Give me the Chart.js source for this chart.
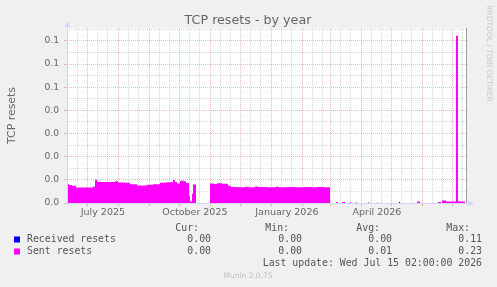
<!DOCTYPE html>
<html>
<head>
<meta charset="utf-8">
<title>TCP resets - by year</title>
<script src="https://cdn.jsdelivr.net/npm/chart.js@4.4.1/dist/chart.umd.min.js"></script>
<style>
  html, body { margin: 0; padding: 0; background: #f0f0f0; }
  canvas { display: block; }
</style>
</head>
<body>
<canvas id="grafico" width="497" height="287"></canvas>
<script>
// Eje X en días desde el inicio del gráfico (10 jun 2025 02:00), 400 días en total
const sentDays = [0, 2, 5, 9, 26, 28, 30, 33, 48, 51, 58, 63, 70, 80, 86, 93, 99, 106, 108, 110,
  113, 117, 119, 122, 123, 125, 126, 129, 130, 143, 147, 150, 155, 161, 164, 170, 178, 182, 188,
  191, 200, 209, 212, 220, 228, 238, 245, 250, 256, 263, 269, 271, 275, 278, 283, 284, 289, 290,
  301, 302, 310, 311, 350, 353, 371, 374, 375, 379, 389, 391, 393, 398, 400];
const sentValues = [0.0082, 0.0078, 0.0074, 0.0067, 0.0071, 0.0100, 0.0092, 0.0091, 0.0094, 0.0089,
  0.0087, 0.0081, 0.0076, 0.0079, 0.0081, 0.0088, 0.0090, 0.0099, 0.0091, 0.0084,
  0.0096, 0.0094, 0.0086, 0.0030, 0.0006, 0.0040, 0.0080, 0.0080, null, 0.0084, 0.0082, 0.0085,
  0.0083, 0.0075, 0.0069, 0.0068, 0.0070, 0.0068, 0.0071,
  0.0069, 0.0068, 0.0070, 0.0068, 0.0069, 0.0068, 0.0069, 0.0068, 0.0069, 0.0068, 0, 0.0004, 0,
  0.0004, 0, 0.0003, 0, 0.0003, 0,
  0.0003, 0, 0.0002, 0, 0.0007, 0, 0.0004, 0, 0.0011, 0.0006, 0.0722, 0.0008, 0.0006, 0, 0];
const receivedDays = [0, 332, 333, 400];
const receivedValues = [0, 0.0004, 0, 0];

const yTicks = [0, 0.005, 0.01, 0.015, 0.02, 0.025, 0.03, 0.035, 0.04, 0.045, 0.05, 0.055,
  0.06, 0.065, 0.07, 0.075];
const monthStartDays = [20.9, 51.9, 82.9, 112.9, 143.9, 173.9, 204.9, 235.9, 263.9, 294.9,
  324.9, 355.9, 385.9];
const minorGridDays = [10.9, 30.9, 40.9, 61.9, 71.9, 92.9, 102.9, 122.9, 132.9, 153.9, 163.9,
  183.9, 193.9, 214.9, 224.9, 245.9, 255.9, 273.9, 283.9, 304.9, 314.9, 334.9, 344.9, 365.9,
  375.9, 395.9];
const monthLabelDays = [35.9, 127.9, 219.9, 309.9];
const monthLabels = ["July 2025", "October 2025", "January 2026", "April 2026"];

const legendNames = ["Received resets", "Sent resets"];
const legendColors = ["#0000ff", "#ff00ff"];
const curValues = ["0.00", "0.00"];
const minValues = ["0.00", "0.00"];
const avgValues = ["0.00", "0.01"];
const maxValues = ["0.11", "0.23"];

const MAJOR = "rgba(225, 70, 70, 0.38)";
const MINOR = "rgba(150, 150, 150, 0.38)";
const FONT_COLOR = "#666666";
const LEGEND_COLOR = "#555555";
const AXIS_COLOR = "#cfd6f8";

const toPoints = (days, values) => days.map((d, i) => ({ x: d, y: values[i] }));
const isMajor = v => monthStartDays.includes(v);

// Fondo gris y área del gráfico en blanco
const fondo = {
  id: "fondo",
  beforeDraw(chart) {
    const { ctx, chartArea: a } = chart;
    ctx.save();
    ctx.fillStyle = "#f0f0f0";
    ctx.fillRect(0, 0, chart.width, chart.height);
    ctx.fillStyle = "#ffffff";
    ctx.fillRect(a.left, a.top, a.right - a.left, a.bottom - a.top);
    ctx.restore();
  }
};

// Ejes con flechas, título, marca de agua y leyenda estilo munin
const adornos = {
  id: "adornos",
  afterDraw(chart) {
    const { ctx, chartArea: a } = chart;
    ctx.save();

    // borde derecho
    ctx.strokeStyle = "#a0a0a0";
    ctx.lineWidth = 1;
    ctx.beginPath();
    ctx.moveTo(a.right - 0.5, a.top);
    ctx.lineTo(a.right - 0.5, a.bottom);
    ctx.stroke();

    // ejes
    ctx.strokeStyle = AXIS_COLOR;
    ctx.fillStyle = AXIS_COLOR;
    ctx.beginPath();
    ctx.moveTo(a.left + 0.5, a.bottom + 2);
    ctx.lineTo(a.left + 0.5, a.top - 2);
    ctx.moveTo(a.left - 2, a.bottom + 0.5);
    ctx.lineTo(a.right + 2, a.bottom + 0.5);
    ctx.stroke();
    ctx.beginPath();
    ctx.moveTo(a.left + 0.5, a.top - 7);
    ctx.lineTo(a.left - 2.5, a.top - 1);
    ctx.lineTo(a.left + 3.5, a.top - 1);
    ctx.fill();
    ctx.beginPath();
    ctx.moveTo(a.right + 7, a.bottom + 0.5);
    ctx.lineTo(a.right + 1, a.bottom - 2.5);
    ctx.lineTo(a.right + 1, a.bottom + 3.5);
    ctx.fill();

    // título
    ctx.fillStyle = FONT_COLOR;
    ctx.font = "12.7px 'DejaVu Sans'";
    ctx.textAlign = "center";
    ctx.textBaseline = "alphabetic";
    ctx.fillText("TCP resets - by year", 248, 24);

    // título eje Y
    ctx.save();
    ctx.translate(12, (a.top + a.bottom) / 2);
    ctx.rotate(-Math.PI / 2);
    ctx.font = "10.9px 'DejaVu Sans'";
    ctx.textBaseline = "middle";
    ctx.fillText("TCP resets", 0, 0);
    ctx.restore();

    // marca de agua
    ctx.save();
    ctx.translate(488.5, 53.5);
    ctx.rotate(Math.PI / 2);
    ctx.fillStyle = "#c8c8c8";
    ctx.font = "7.5px 'DejaVu Sans'";
    ctx.textBaseline = "middle";
    ctx.fillText("RRDTOOL / TOBI OETIKER", 0, 0);
    ctx.restore();

    // leyenda
    ctx.font = "9.85px 'DejaVu Sans Mono'";
    ctx.textBaseline = "middle";
    ctx.textAlign = "right";
    ctx.fillStyle = LEGEND_COLOR;
    const headX = [199, 289, 380, 470];
    const valX = [211, 302, 392, 482];
    ["Cur:", "Min:", "Avg:", "Max:"].forEach((h, i) => ctx.fillText(h, headX[i], 228));
    legendNames.forEach((name, i) => {
      const y = 239.5 + i * 12;
      ctx.fillStyle = legendColors[i];
      ctx.fillRect(14, y - 3, 6, 6);
      ctx.fillStyle = LEGEND_COLOR;
      ctx.textAlign = "left";
      ctx.fillText(name, 27, y);
      ctx.textAlign = "right";
      [curValues[i], minValues[i], avgValues[i], maxValues[i]].forEach((v, j) => ctx.fillText(v, valX[j], y));
    });
    ctx.fillText("Last update: Wed Jul 15 02:00:00 2026", 482, 263);

    ctx.fillStyle = "#c0c0c0";
    ctx.font = "7.5px 'DejaVu Sans'";
    ctx.textAlign = "center";
    ctx.fillText("Munin 2.0.75", 248, 276);
    ctx.restore();
  }
};

const ctx = document.getElementById("grafico").getContext("2d");
new Chart(ctx, {
  type: "line",
  data: {
    datasets: [
      {
        label: "Sent resets",
        data: toPoints(sentDays, sentValues),
        backgroundColor: "#ff00ff",
        borderColor: "#ff00ff",
        borderWidth: 0,
        pointRadius: 0,
        stepped: true,
        fill: "origin",
        spanGaps: false
      },
      {
        label: "Received resets",
        data: toPoints(receivedDays, receivedValues),
        backgroundColor: "#0000ff",
        borderColor: "#0000ff",
        borderWidth: 0,
        pointRadius: 0,
        stepped: true,
        fill: "origin"
      }
    ]
  },
  options: {
    responsive: false,
    animation: false,
    layout: { padding: { left: 0, right: 30, top: 28, bottom: 0 } },
    plugins: {
      legend: { display: false },
      tooltip: { enabled: false },
      title: { display: false }
    },
    scales: {
      x: {
        type: "linear",
        position: "bottom",
        min: 0,
        max: 400,
        weight: 0,
        afterBuildTicks: s => { s.ticks = monthStartDays.concat(minorGridDays).map(v => ({ value: v })); },
        afterFit: s => { s.height = 0; },
        ticks: { display: false, autoSkip: false },
        grid: {
          color: c => isMajor(c.tick.value) ? MAJOR : MINOR,
          tickColor: c => isMajor(c.tick.value) ? MAJOR : "rgba(0,0,0,0)",
          tickLength: 3,
          lineWidth: 1
        },
        border: { display: false, dash: [1, 1] }
      },
      xl: {
        type: "linear",
        position: "bottom",
        min: 0,
        max: 400,
        weight: 1,
        afterBuildTicks: s => { s.ticks = monthLabelDays.map(v => ({ value: v })); },
        afterFit: s => { s.height = 84; },
        ticks: {
          autoSkip: false,
          maxRotation: 0,
          padding: 4,
          color: FONT_COLOR,
          font: { family: "DejaVu Sans", size: 9.5 },
          callback: (v, i) => monthLabels[i]
        },
        grid: { display: false, drawTicks: false },
        border: { display: false }
      },
      y: {
        type: "linear",
        min: 0,
        max: 0.0756,
        afterBuildTicks: s => { s.ticks = yTicks.map(v => ({ value: v })); },
        afterFit: s => { s.width = 67; },
        ticks: {
          autoSkip: false,
          padding: 5,
          color: FONT_COLOR,
          font: { family: "DejaVu Sans", size: 9.2 },
          callback: (v, i) => (i % 2 === 0 ? v.toFixed(1) : "")
        },
        grid: {
          color: c => (c.index % 2 === 0 ? MAJOR : MINOR),
          tickColor: c => (c.index % 2 === 0 ? MAJOR : "rgba(0,0,0,0)"),
          tickLength: 3,
          lineWidth: 1
        },
        border: { display: false, dash: [1, 1] }
      }
    }
  },
  plugins: [fondo, adornos]
});
</script>
</body>
</html>
